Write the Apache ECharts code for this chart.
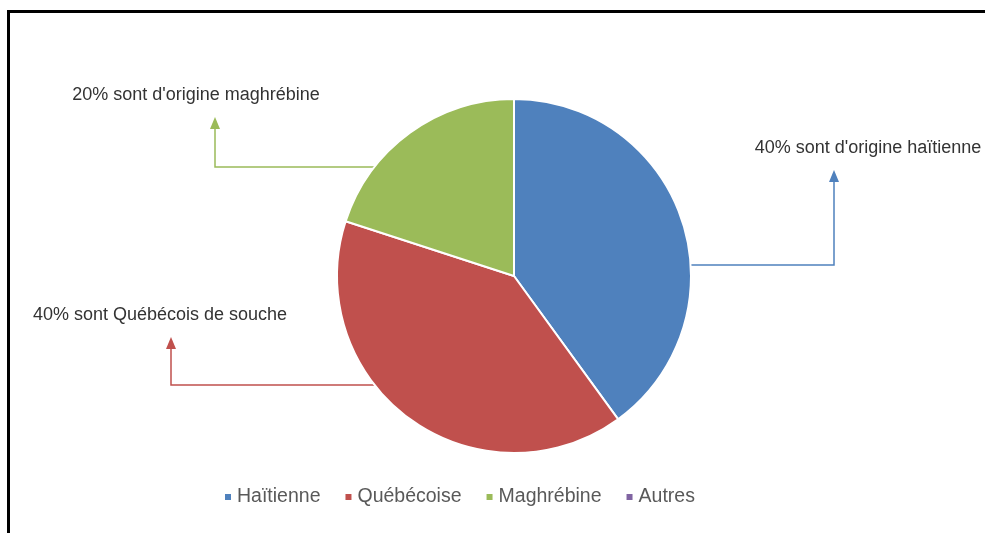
<!DOCTYPE html>
<html>
<head>
<meta charset="utf-8">
<script src="https://cdn.jsdelivr.net/npm/echarts@6/dist/echarts.min.js"></script>
<style>
  html, body { margin: 0; padding: 0; background: #fff; }
  #chart { width: 985px; height: 533px; }
</style>
</head>
<body>
<div id="chart"></div>
<script>
const origins = ['Haïtienne', 'Québécoise', 'Maghrébine', 'Autres'];
const shares = [40, 40, 20, 0];
const calloutTexts = [
    "40% sont d'origine haïtienne",
    "40% sont Québécois de souche",
    "20% sont d'origine maghrébine",
    ''
];
const colors = ['#4F81BD', '#C0504D', '#9BBB59', '#8064A2'];

// pie geometry
const cx = 514, cy = 276, r = 177;

// callout placement: label centre, horizontal leg y, elbow x, arrow tip y
const callouts = [
    { x: 868, y: 148, lineY: 265, elbowX: 834, tipY: 170, side: 1 },
    { x: 160, y: 315, lineY: 385, elbowX: 171, tipY: 337, side: -1 },
    { x: 196, y: 95, lineY: 167, elbowX: 215, tipY: 117, side: -1 }
];
const headH = 12, headW = 10;

function edgeX(c) {
    const dy = c.lineY - cy;
    return cx + c.side * Math.sqrt(r * r - dy * dy);
}

const arrowHeads = callouts.map((c, i) => ({
    type: 'polygon',
    shape: { points: [[c.elbowX, c.tipY], [c.elbowX - headW / 2, c.tipY + headH], [c.elbowX + headW / 2, c.tipY + headH]] },
    style: { fill: colors[i] },
    z: 10
}));

const chart = echarts.init(document.getElementById('chart'));
chart.setOption({
    animation: false,
    color: colors,
    textStyle: { fontFamily: 'Liberation Sans, Arial, sans-serif' },
    legend: {
        data: origins,
        left: 218,
        top: 482,
        itemWidth: 8,
        itemHeight: 8,
        itemGap: 23,
        icon: 'rect',
        textStyle: { fontSize: 19.5, color: '#595959' }
    },
    series: [
        {
            type: 'pie',
            center: [cx, cy],
            radius: r,
            startAngle: 90,
            clockwise: true,
            stillShowZeroSum: true,
            itemStyle: { borderColor: '#fff', borderWidth: 2 },
            emphasis: { disabled: true },
            label: {
                show: true,
                formatter: p => calloutTexts[p.dataIndex],
                fontSize: 18,
                color: '#333'
            },
            labelLine: { show: true, lineStyle: { width: 1.5 } },
            labelLayout: params => {
                const c = callouts[params.dataIndex];
                if (!c) return {};
                return {
                    x: c.x,
                    y: c.y,
                    align: 'center',
                    verticalAlign: 'middle',
                    labelLinePoints: [
                        [edgeX(c), c.lineY],
                        [c.elbowX, c.lineY],
                        [c.elbowX, c.tipY + headH - 1]
                    ]
                };
            },
            data: origins.map((name, i) => ({
                name,
                value: shares[i],
                label: { show: shares[i] > 0 },
                labelLine: { show: shares[i] > 0 }
            }))
        }
    ],
    graphic: [
        {
            type: 'rect',
            shape: { x: 8.5, y: 11.5, width: 1000, height: 600 },
            style: { fill: null, stroke: '#000', lineWidth: 3 },
            silent: true
        },
        ...arrowHeads
    ]
});
</script>
</body>
</html>
